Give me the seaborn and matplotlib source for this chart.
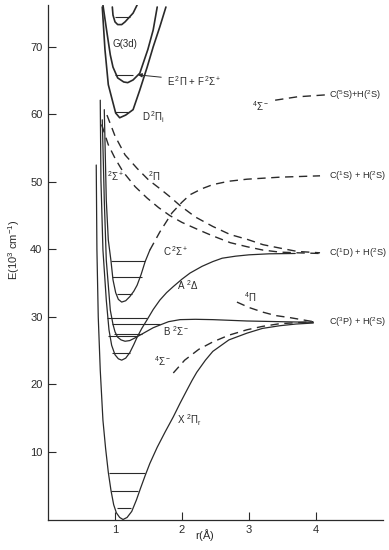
import numpy as np
import pandas as pd
import matplotlib.pyplot as plt
import seaborn as sns

sns.set_theme(style='ticks')
plt.rcParams['font.family'] = ['Liberation Sans', 'DejaVu Sans']
plt.rcParams['mathtext.fontset'] = 'custom'
plt.rcParams['mathtext.rm'] = 'Liberation Sans'
plt.rcParams['mathtext.it'] = 'Liberation Sans'

INK = '#2a2a2a'

# --- potential curves (r in angstrom, E in 10^3 cm^-1) ---
x_r = [0.72, 0.73, 0.75, 0.78, 0.82, 0.86, 0.90, 0.94, 0.98, 1.02, 1.07, 1.12,
       1.18, 1.25, 1.32, 1.38, 1.45, 1.52, 1.63, 1.75, 1.87, 1.97, 2.07, 2.15,
       2.22, 2.35, 2.46, 2.70, 2.97, 3.20, 3.46, 3.70, 3.96]
x_e = [52.5, 40.0, 30.0, 22.1, 14.7, 10.5, 7.0, 4.3, 2.2, 1.0, 0.3, 0.0,
       0.3, 1.2, 2.9, 4.6, 6.5, 8.3, 10.7, 13.0, 15.2, 17.2, 19.1, 20.6,
       21.8, 23.6, 24.9, 26.6, 27.6, 28.3, 28.7, 28.95, 29.1]

a_r = [0.78, 0.79, 0.82, 0.87, 0.91, 0.95, 1.00, 1.05, 1.10, 1.16, 1.22, 1.28,
       1.33, 1.40, 1.48, 1.57, 1.67, 1.77, 1.87, 2.00, 2.12, 2.30, 2.46, 2.60,
       2.80, 3.00, 3.30, 3.69]
a_e = [62.1, 50.3, 39.9, 32.5, 28.1, 25.8, 24.4, 23.8, 23.6, 23.9, 24.7, 25.9,
       27.0, 28.3, 29.6, 31.1, 32.5, 33.6, 34.5, 35.6, 36.5, 37.5, 38.2, 38.7,
       39.0, 39.2, 39.35, 39.4]

b_r = [0.81, 0.84, 0.87, 0.93, 0.97, 1.00, 1.04, 1.09, 1.15, 1.22, 1.30, 1.39,
       1.48, 1.57, 1.67, 1.80, 1.97, 2.20, 2.46, 2.97, 3.46, 3.96]
b_e = [59.2, 47.3, 38.4, 31.0, 28.9, 27.8, 27.0, 26.6, 26.4, 26.5, 26.9, 27.4,
       27.9, 28.4, 28.8, 29.3, 29.6, 29.65, 29.6, 29.4, 29.3, 29.2]

c_r = [0.84, 0.87, 0.90, 0.94, 0.97, 1.01, 1.05, 1.10, 1.16, 1.22, 1.28, 1.33,
       1.39, 1.45, 1.52]
c_e = [60.7, 47.3, 41.4, 38.3, 35.5, 33.6, 32.6, 32.2, 32.4, 33.0, 33.8, 34.7,
       36.3, 38.2, 39.9]
c_dash_r = [1.52, 1.67, 1.85, 2.00, 2.12, 2.30, 2.46, 2.70, 2.97, 3.46, 4.06]
c_dash_e = [39.9, 42.6, 45.4, 47.0, 48.1, 49.0, 49.6, 50.1, 50.4, 50.7, 50.9]

sig2_r = [0.80, 0.90, 1.00, 1.12, 1.30, 1.48, 1.65, 1.82, 2.00, 2.27, 2.46,
          2.72, 2.97, 3.21, 3.46, 3.72, 4.06]
sig2_e = [58.5, 55.5, 53.5, 51.5, 49.3, 47.6, 46.2, 45.0, 44.0, 42.8, 42.0,
          41.0, 40.4, 39.9, 39.6, 39.5, 39.4]
pi2_r = [0.88, 1.00, 1.15, 1.33, 1.50, 1.67, 1.82, 1.97, 2.20, 2.46, 2.72,
         2.97, 3.21, 3.46, 3.72, 4.06]
pi2_e = [59.9, 56.8, 54.0, 52.0, 50.3, 49.0, 47.8, 46.5, 44.8, 43.4, 42.2,
         41.5, 40.7, 40.2, 39.7, 39.5]

q_sig_lo_r = [1.87, 2.04, 2.25, 2.46, 2.70, 2.97, 3.20, 3.46, 3.96]
q_sig_lo_e = [21.7, 23.6, 25.2, 26.3, 27.3, 28.1, 28.6, 29.0, 29.3]
q_pi_r = [2.82, 3.00, 3.21, 3.40, 3.61, 3.96]
q_pi_e = [32.2, 31.4, 30.7, 30.2, 29.9, 29.3]
q_sig_hi_r = [3.39, 3.72, 4.16]
q_sig_hi_e = [62.1, 62.6, 62.9]

d_r = [0.81, 0.85, 0.90, 0.96, 1.01, 1.07, 1.16, 1.27, 1.37, 1.48, 1.57, 1.67, 1.76]
d_e = [75.9, 69.6, 64.4, 62.1, 60.2, 59.5, 59.9, 60.7, 63.6, 67.0, 70.0, 73.0, 75.9]
ef_r = [0.82, 0.88, 0.93, 0.97, 1.04, 1.13, 1.19, 1.27, 1.37, 1.49, 1.57, 1.63]
ef_e = [76.2, 72.1, 68.8, 67.0, 65.4, 64.8, 64.7, 65.1, 66.1, 69.6, 72.5, 75.9]
g_r = [0.96, 0.97, 1.00, 1.04, 1.10, 1.15, 1.27, 1.33]
g_e = [75.9, 74.7, 73.7, 73.3, 73.3, 73.7, 75.0, 76.2]

# --- vibrational levels: energy, r_left, r_right ---
lvl_e = [1.75, 4.2, 6.85, 24.7, 27.2, 29.8, 27.4, 28.9, 33.4, 35.9, 38.3,
         60.4, 65.9, 74.4]
lvl_r0 = [1.03, 0.94, 0.91, 0.96, 0.90, 0.88, 0.98, 0.95, 1.03, 0.96, 0.94,
          1.00, 1.00, 1.00]
lvl_r1 = [1.24, 1.34, 1.45, 1.22, 1.33, 1.48, 1.40, 1.67, 1.25, 1.40, 1.45,
          1.19, 1.27, 1.22]

fig = plt.figure(figsize=(3.89, 5.5), dpi=100)
ax = fig.add_axes([48 / 389, 1 - 519.5 / 550, (383 - 48) / 389, (519.5 - 5) / 550])

solid = [(x_r, x_e, 0.9), (a_r, a_e, 0.9), (b_r, b_e, 0.9), (c_r, c_e, 0.9),
         (d_r, d_e, 1.2), (ef_r, ef_e, 1.2), (g_r, g_e, 1.2)]
dashed = [(c_dash_r, c_dash_e), (sig2_r, sig2_e), (pi2_r, pi2_e),
          (q_sig_lo_r, q_sig_lo_e), (q_pi_r, q_pi_e), (q_sig_hi_r, q_sig_hi_e)]

for r, e, lw in solid:
    sns.lineplot(x=r, y=e, sort=False, estimator=None, color=INK, lw=lw, ax=ax)
for r, e in dashed:
    sns.lineplot(x=r, y=e, sort=False, estimator=None, color=INK, lw=1.0,
                 linestyle=(0, (6, 4)), ax=ax)

ax.hlines(lvl_e, lvl_r0, lvl_r1, color=INK, lw=0.8)

# labels
fs = 7
fr = 6.6
ax.text(0.97, 70.4, 'G(3d)', fontsize=fs, va='center', color=INK)
ax.annotate(r'E$\,^2\Pi$ + F$\,^2\Sigma^+$', xy=(1.30, 65.9), xytext=(1.78, 65.0),
            fontsize=fs, va='center', color=INK,
            arrowprops=dict(arrowstyle='-|>', color=INK, lw=0.7, mutation_scale=6))
ax.text(1.40, 59.6, r'D$\,^2\Pi_{\rm i}$', fontsize=fs, va='center', color=INK)
ax.text(3.05, 61.2, r'$^4\Sigma^-$', fontsize=fs, va='center', color=INK)
ax.text(4.2, 62.9, r'C($^5$S)+H($^2$S)', fontsize=fr, va='center', color=INK)
ax.text(4.2, 50.8, r'C($^1$S) + H($^2$S)', fontsize=fr, va='center', color=INK)
ax.text(0.88, 50.9, r'$^2\Sigma^+$', fontsize=fs, va='center', color=INK)
ax.text(1.50, 50.8, r'$^2\Pi$', fontsize=fs, va='center', color=INK)
ax.text(4.2, 39.5, r'C($^1$D) + H($^2$S)', fontsize=fr, va='center', color=INK)
ax.text(1.72, 39.8, r'C$\,^2\Sigma^+$', fontsize=fs, va='center', color=INK)
ax.text(1.93, 34.7, r'A $^2\Delta$', fontsize=fs, va='center', color=INK)
ax.text(2.93, 33.0, r'$^4\Pi$', fontsize=fs, va='center', color=INK)
ax.text(1.72, 27.9, r'B $^2\Sigma^-$', fontsize=fs, va='center', color=INK)
ax.text(4.2, 29.3, r'C($^3$P) + H($^2$S)', fontsize=fr, va='center', color=INK)
ax.text(1.58, 23.4, r'$^4\Sigma^-$', fontsize=fs, va='center', color=INK)
ax.text(1.93, 14.7, r'X $^2\Pi_r$', fontsize=fs, va='center', color=INK)

ax.set_xlim(0, 5.0)
ax.set_ylim(0, 76.2)
ax.set_xticks([1, 2, 3, 4])
ax.set_yticks([10, 20, 30, 40, 50, 60, 70])
ax.set_xticklabels(['1', '2', '3', '4'])
ax.set_yticklabels(['10', '20', '30', '40', '50', '60', '70'])
ax.tick_params(direction='in', length=6, width=0.8, colors=INK, labelsize=8, pad=4)
for s in ['top', 'right']:
    ax.spines[s].set_visible(False)
for s in ['left', 'bottom']:
    ax.spines[s].set_linewidth(0.9)
    ax.spines[s].set_color(INK)
ax.set_xlabel('')
ax.set_ylabel('')

fig.text(14 / 389, 1 - 250 / 550, r'E(10$^3$ cm$^{-1}$)', rotation=90,
         ha='center', va='center', fontsize=8, color=INK)
fig.text(205 / 389, 1 - 535 / 550, r'r($\mathrm{\AA}$)', ha='center', va='center',
         fontsize=8, color=INK)

fig.savefig('out.png', dpi=100)
